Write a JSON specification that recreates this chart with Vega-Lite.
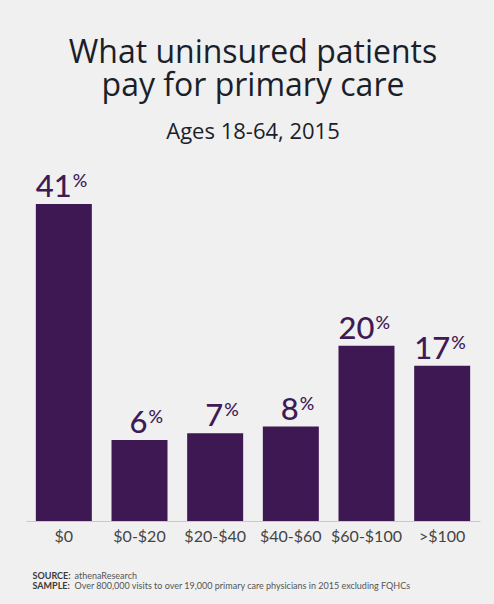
{
  "$schema": "https://vega.github.io/schema/vega-lite/v6.json",
  "width": 454,
  "height": 317,
  "autosize": {"type": "none"},
  "padding": {"left": 26, "top": 204, "right": 14, "bottom": 83},
  "background": "#f0f0f0",
  "title": {
    "text": ["What uninsured patients", "pay for primary care"],
    "subtitle": "Ages 18-64, 2015",
    "anchor": "middle",
    "font": "Open Sans",
    "fontSize": 32,
    "fontWeight": 500,
    "color": "#1b1f2a",
    "lineHeight": 33,
    "subtitleFont": "Open Sans",
    "subtitleFontSize": 22,
    "subtitleFontWeight": 500,
    "subtitleColor": "#1b1f2a",
    "subtitlePadding": 19,
    "offset": 28
  },
  "data": {
    "values": [
      {"cost": "$0", "pct": 41},
      {"cost": "$0-$20", "pct": 6},
      {"cost": "$20-$40", "pct": 7},
      {"cost": "$40-$60", "pct": 8},
      {"cost": "$60-$100", "pct": 20},
      {"cost": ">$100", "pct": 17}
    ]
  },
  "layer": [
    {
      "mark": {"type": "bar", "color": "#3d1852"},
      "encoding": {
        "x": {
          "field": "cost",
          "type": "nominal",
          "sort": null,
          "scale": {"paddingInner": 0.26, "paddingOuter": 0.13},
          "axis": {
            "orient": "bottom",
            "labelAngle": 0,
            "labelFont": "Lato",
            "labelFontSize": 16,
            "labelColor": "#444444",
            "labelPadding": 7,
            "ticks": false,
            "domainColor": "#c8c8c8",
            "domainWidth": 1,
            "title": ["SOURCE:", "SAMPLE:"],
            "titleFont": "Lato",
            "titleFontSize": 9,
            "titleFontWeight": "bold",
            "titleColor": "#3a3a3a",
            "titleAlign": "left",
            "titleAnchor": "start",
            "titleBaseline": "top",
            "titleLineHeight": 10,
            "titleX": 6,
            "titleY": 50
          }
        },
        "y": {
          "field": "pct",
          "type": "quantitative",
          "scale": {"domain": [-6, 41], "zero": false, "nice": false},
          "axis": null
        },
        "y2": {"datum": -6}
      }
    },
    {
      "encoding": {
        "x": {
          "field": "cost",
          "type": "nominal",
          "sort": null,
          "axis": {
            "orient": "top",
            "labels": false,
            "ticks": false,
            "domain": false,
            "title": ["athenaResearch", "Over 800,000 visits to over 19,000 primary care physicians in 2015 excluding FQHCs"],
            "titleFont": "Lato",
            "titleFontSize": 9,
            "titleFontWeight": "normal",
            "titleColor": "#555555",
            "titleAlign": "left",
            "titleAnchor": "start",
            "titleBaseline": "top",
            "titleLineHeight": 10,
            "titleX": 48,
            "titleY": 367
          }
        },
        "y": {"field": "pct", "type": "quantitative", "axis": null}
      },
      "layer": [
        {
          "mark": {"type": "text", "font": "Lato", "fontSize": 31, "fontWeight": 500, "color": "#3e1a56", "align": "right", "baseline": "alphabetic", "dx": 8, "dy": -7},
          "encoding": {"text": {"field": "pct", "type": "quantitative"}}
        },
        {
          "mark": {"type": "text", "font": "Lato", "fontSize": 18, "fontWeight": 500, "color": "#3e1a56", "align": "left", "baseline": "alphabetic", "dx": 9, "dy": -17},
          "encoding": {"text": {"value": "%"}}
        }
      ]
    }
  ],
  "resolve": {"axis": {"x": "independent"}},
  "config": {"view": {"stroke": null}}
}
